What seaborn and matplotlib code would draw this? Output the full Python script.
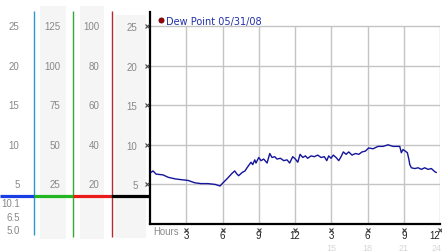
import matplotlib
matplotlib.use("Agg")
import matplotlib.pyplot as plt
import matplotlib.transforms as mtrans
import pandas as pd
import seaborn as sns

# ---------------- data ----------------
hours = [0.08, 0.25, 0.5, 1.08, 1.5, 2.07, 2.57, 3.15, 3.72, 4.22, 4.8, 5.38, 5.8, 6.04,
         6.37, 6.79, 7.01, 7.2, 7.34, 7.62, 7.86, 8.03, 8.17, 8.36, 8.5, 8.67, 8.77, 9.0,
         9.19, 9.41, 9.69, 9.91, 10.1, 10.32, 10.51, 10.79, 11.07, 11.34, 11.56, 11.81, 12.03,
         12.23, 12.42, 12.64, 12.86, 13.05, 13.33, 13.6, 13.88, 14.16, 14.43, 14.63, 14.79,
         14.98, 15.17, 15.4, 15.62, 15.81, 16.0, 16.23, 16.45, 16.72, 17.0, 17.28, 17.55,
         17.82, 18.1, 18.46, 18.87, 19.29, 19.7, 20.12, 20.53, 20.67, 20.8, 20.94, 21.13,
         21.3, 21.42, 21.5, 21.63, 21.91, 22.19, 22.46, 22.74, 23.01, 23.29, 23.57, 23.7]
dew_point = [6.5, 6.7, 6.3, 6.2, 5.9, 5.7, 5.6, 5.5, 5.2, 5.1, 5.1, 5.0, 4.8, 5.2,
             5.7, 6.4, 6.7, 6.3, 6.1, 6.5, 6.7, 7.1, 7.4, 7.8, 7.5, 8.1, 7.7, 8.4,
             8.0, 8.2, 7.7, 8.9, 8.4, 8.5, 8.2, 8.3, 8.0, 8.1, 7.7, 8.5, 8.2,
             7.8, 8.8, 8.4, 8.6, 8.3, 8.6, 8.5, 8.7, 8.4, 8.5, 8.0, 8.6,
             8.3, 8.7, 8.4, 8.0, 8.5, 9.1, 8.8, 9.1, 8.7, 8.9, 8.8, 9.1,
             9.2, 9.6, 9.5, 9.8, 9.8, 10.0, 9.8, 9.8, 9.8, 9.0, 9.4, 9.2,
             9.0, 8.2, 7.5, 7.1, 7.0, 7.1, 6.9, 7.1, 6.9, 7.0, 6.6, 6.5]

y_ticks = [5, 10, 15, 20, 25]
col1_labels = ["5", "10", "15", "20", "25"]
col2_labels = ["25", "50", "75", "100", "125"]
col3_labels = ["20", "40", "60", "80", "100"]
col4_labels = ["5", "10", "15", "20", "25"]
summary_labels = ["10.1", "6.5", "5.0"]
x_ticks = [3, 6, 9, 12, 15, 18, 21, 24]
x_tick_labels = ["3", "6", "9", "12", "3", "6", "9", "12"]
pm_ticks = [15, 18, 21, 24]
pm_labels = ["15", "18", "21", "24"]
legend_label = "Dew Point 05/31/08"
x_title = "Hours"

df = pd.DataFrame({"hour": hours, "dew": dew_point})

# ---------------- style ----------------
sns.set_theme(style="white")
plt.rcParams["font.family"] = ["Liberation Sans", "DejaVu Sans"]

W, H = 442, 253
fig = plt.figure(figsize=(W / 100, H / 100), dpi=100)
fig.patch.set_facecolor("white")


def frac(x0, y0, x1, y1):
    return [x0 / W, 1 - y1 / H, (x1 - x0) / W, (y1 - y0) / H]


# overlay in pixel coordinates (for panel decoration)
ov = fig.add_axes([0, 0, 1, 1], zorder=0)
ov.set_xlim(0, W)
ov.set_ylim(H, 0)
ov.axis("off")

ax = fig.add_axes(frac(150, 13, 440, 225), zorder=1)
ax.set_xlim(0, 24)
ax.set_ylim(0, 26.77)
ax.patch.set_alpha(0)

# grid
grid_c = "#c4c4c4"
ax.hlines(y_ticks, 0, 24, color=grid_c, lw=1, zorder=1)
ax.vlines(x_ticks, 0, 25, color=grid_c, lw=1, zorder=1)

# data line
sns.lineplot(data=df, x="hour", y="dew", ax=ax, color="#14149c", lw=1, zorder=3)
ax.set_xlabel("")
ax.set_ylabel("")

# spines
for s in ["top", "right"]:
    ax.spines[s].set_visible(False)
for s in ["left", "bottom"]:
    ax.spines[s].set_color("black")
    ax.spines[s].set_linewidth(1.6)

# ticks
ax.set_xticks(x_ticks)
ax.set_xticklabels(x_tick_labels)
ax.set_yticks(y_ticks)
ax.set_yticklabels(col4_labels)
ax.tick_params(axis="x", length=0, pad=4.2, labelsize=7, labelcolor="#222222")
ax.tick_params(axis="y", length=0, pad=9, labelsize=7, labelcolor="#888888")
xl = ax.get_xticklabels()
xl[-1].set_horizontalalignment("right")
xl[-1].set_x(24.15)

# small tick marks
ax.plot(x_ticks, [-0.028] * len(x_ticks), transform=ax.get_xaxis_transform(),
        ls="none", marker="x", ms=2.6, mew=0.8, color="#444444", clip_on=False, zorder=4)
ax.plot([-0.01] * len(y_ticks), y_ticks, transform=ax.get_yaxis_transform(),
        ls="none", marker="x", ms=2.6, mew=0.8, color="#444444", clip_on=False, zorder=4)

# faint 24h labels
for t, lab in zip(pm_ticks, pm_labels):
    last = t == pm_ticks[-1]
    ax.text(t + (0.15 if last else 0), -0.1205, lab, transform=ax.get_xaxis_transform(),
            ha="right" if last else "center", va="baseline",
            fontsize=6.5, color="#d6d6d6", clip_on=False)

# axis title
ov.text(153, 232.5, x_title, ha="left", va="center", fontsize=6.9, color="#8a8a8a")

# legend
ov.scatter([160.7], [21], s=14, color="#9a0000", edgecolor="#600000", lw=0.5, zorder=5)
ov.text(165.5, 21.5, legend_label, ha="left", va="center", fontsize=7,
        color="#2030a8", family="DejaVu Sans")

# ---------------- left panel ----------------
shade = "#f5f5f5"
for x0, x1, y0, y1 in [(40, 66, 7, 240), (80, 104, 7, 240), (115, 146, 16, 239)]:
    ov.add_patch(plt.Rectangle((x0, y0), x1 - x0, y1 - y0, color=shade, lw=0, zorder=0))

ov.vlines([33.5], 12, 236, color="#2f96d2", lw=1.0, zorder=2)
ov.vlines([72.5], 12, 238, color="#34a834", lw=1.0, zorder=2)
ov.vlines([111.5], 12, 238, color="#b82a2a", lw=1.0, zorder=2)

ov.hlines(197, 0, 34, color="#1a3ee6", lw=2.3, zorder=3)
ov.hlines(197, 34, 73, color="#22b622", lw=2.3, zorder=3)
ov.hlines(197, 73, 111, color="#ea1a1a", lw=2.3, zorder=3)
ov.hlines(197, 111, 150, color="#000000", lw=2.3, zorder=3)

blend = mtrans.blended_transform_factory(ov.transData, ax.transData)
lab_c = "#888888"
for xr, labels in [(19.5, col1_labels), (60, col2_labels), (99.5, col3_labels)]:
    for v, lab in zip(y_ticks, labels):
        fig.text(xr, v, lab, transform=blend, ha="right", va="center", fontsize=7, color=lab_c)

for yp, lab in zip([204, 218.5, 231], summary_labels):
    ov.text(20, yp, lab, ha="right", va="center", fontsize=7, color=lab_c)

fig.savefig("out.png", dpi=100, facecolor="white")
